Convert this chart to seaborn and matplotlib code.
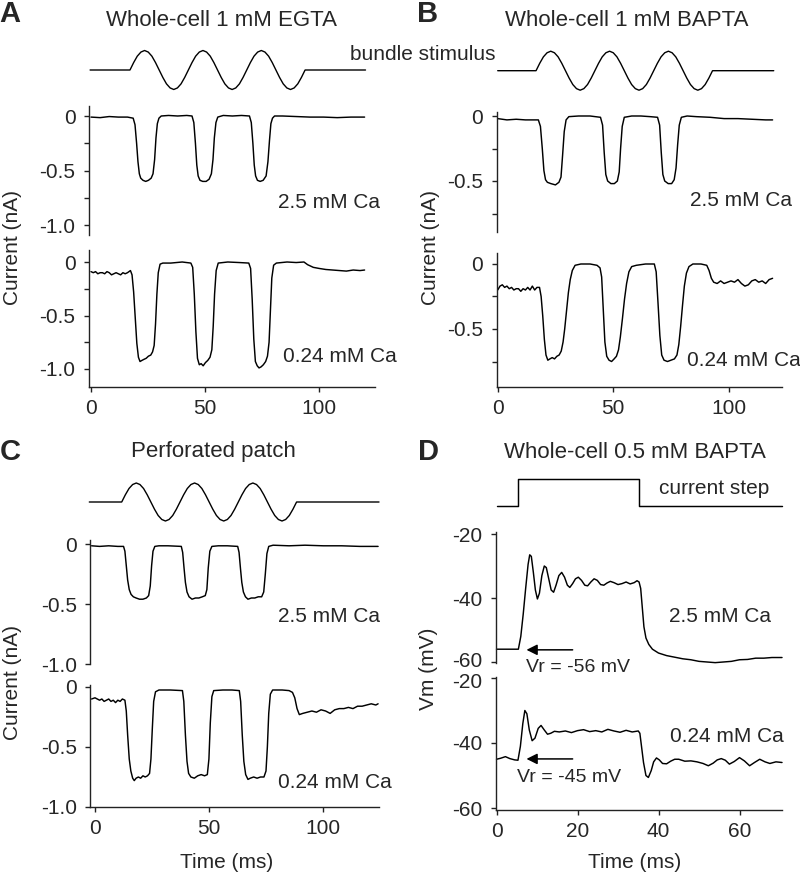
import numpy as np
import matplotlib
matplotlib.use('Agg')
import matplotlib.pyplot as plt
import matplotlib.transforms as mtransforms
import seaborn as sns

sns.set_theme(style='ticks')
plt.rcParams['font.family'] = ['Liberation Sans', 'DejaVu Sans']
plt.rcParams['axes.unicode_minus'] = False

W, H = 800, 877

# ---- data ----
# bundle stimulus, one value every 1/16 cycle, three cycles (normalised)
stim_shape = [0, 0.38, 0.71, 0.92, 1, 0.92, 0.71, 0.38, 0, -0.38, -0.71, -0.92, -1, -0.92, -0.71, -0.38,
              0, 0.38, 0.71, 0.92, 1, 0.92, 0.71, 0.38, 0, -0.38, -0.71, -0.92, -1, -0.92, -0.71, -0.38,
              0, 0.38, 0.71, 0.92, 1, 0.92, 0.71, 0.38, 0, -0.38, -0.71, -0.92, -1, -0.92, -0.71, -0.38, 0]
# (trace start, stimulus on, stimulus off, trace end) in ms
stim_A = (-0.4, 17.1, 93.9, 120.4)
stim_B = (0.0, 16.6, 93.0, 119.5)
stim_C = (-2.5, 11.7, 88.3, 124.4)

# current step of panel D (ms, relative amplitude)
step_D = [(0, 0), (5.4, 0), (5.4, 1), (35.3, 1), (35.3, 0), (70.6, 0)]

# currents (ms, nA)
A_25 = [(0, -0.01), (4, -0.015), (8, -0.005), (12, -0.01), (16, -0.01), (18.5, -0.02), (19.3, -0.08),
        (20, -0.25), (20.6, -0.42), (21.2, -0.53), (21.8, -0.57), (22.8, -0.59), (24, -0.6), (25.2, -0.59),
        (26.4, -0.57), (27.2, -0.53), (27.9, -0.4), (28.5, -0.2), (29.1, -0.07), (29.8, -0.02), (30.8, 0.0),
        (34, 0.005), (38, 0.0), (42, 0.005), (44.3, 0.0), (45.1, -0.06), (45.8, -0.25), (46.4, -0.45),
        (47, -0.55), (47.8, -0.59), (49, -0.6), (50.5, -0.6), (51.8, -0.58), (52.8, -0.53), (53.5, -0.4),
        (54.1, -0.2), (54.8, -0.06), (55.6, -0.01), (58, 0.005), (62, 0.0), (66, 0.005), (69.5, 0.0),
        (70.3, -0.06), (71, -0.25), (71.6, -0.45), (72.2, -0.55), (73, -0.59), (74.2, -0.6), (75.5, -0.59),
        (76.8, -0.55), (77.6, -0.42), (78.3, -0.22), (78.9, -0.07), (79.6, -0.02), (80.5, 0.0), (84, 0.0),
        (90, -0.005), (96, -0.01), (102, -0.01), (108, -0.015), (114, -0.01), (120, -0.01)]
A_024 = [(0, -0.09), (1, -0.1), (2, -0.09), (3, -0.11), (4, -0.1), (5, -0.1), (6, -0.11), (7, -0.09),
         (8, -0.1), (9, -0.12), (10, -0.11), (11, -0.1), (12, -0.11), (13, -0.12), (14, -0.1), (15, -0.11),
         (16, -0.1), (17.3, -0.08), (18, -0.12), (18.7, -0.28), (19.4, -0.52), (20.1, -0.76), (20.8, -0.89),
         (21.5, -0.93), (22.3, -0.92), (23.2, -0.91), (24.2, -0.9), (25.2, -0.88), (26.2, -0.87), (27, -0.84),
         (27.7, -0.78), (28.3, -0.58), (28.9, -0.3), (29.5, -0.1), (30.3, -0.02), (31.5, -0.01), (35, -0.01),
         (40, 0.0), (43.8, -0.01), (44.6, -0.05), (45.3, -0.3), (46, -0.65), (46.7, -0.9), (47.5, -0.96),
         (48.3, -0.95), (49.2, -0.97), (50.2, -0.94), (51.2, -0.92), (52.2, -0.89), (53, -0.82), (53.6, -0.6),
         (54.2, -0.3), (54.9, -0.08), (55.8, -0.01), (60, 0.0), (65, -0.005), (69.2, -0.01), (70, -0.06),
         (70.7, -0.35), (71.4, -0.72), (72.1, -0.93), (72.9, -0.97), (73.7, -0.99), (74.6, -0.98),
         (75.6, -0.96), (76.6, -0.93), (77.4, -0.88), (78.1, -0.75), (78.7, -0.45), (79.3, -0.15),
         (80.1, -0.03), (81.3, -0.01), (86, 0.0), (90, -0.005), (93.4, 0.0), (95, -0.025), (97.5, -0.05),
         (100, -0.06), (103, -0.07), (106, -0.075), (109, -0.08), (112, -0.085), (115, -0.075),
         (118, -0.08), (120, -0.075)]
B_25 = [(0, -0.02), (4, -0.03), (8, -0.025), (12, -0.03), (16, -0.03), (17.6, -0.03), (18.5, -0.08),
        (19.3, -0.25), (20, -0.42), (20.7, -0.49), (21.5, -0.51), (23, -0.52), (25, -0.53), (26.5, -0.51),
        (27.4, -0.47), (28.1, -0.3), (28.8, -0.12), (29.6, -0.03), (30.8, -0.005), (35, 0.0), (40, 0.0),
        (44.5, -0.01), (45.4, -0.07), (46.1, -0.28), (46.8, -0.45), (47.6, -0.5), (49, -0.52), (50.5, -0.52),
        (51.8, -0.5), (52.6, -0.43), (53.2, -0.25), (53.9, -0.08), (54.8, -0.01), (58, 0.0), (62, 0.0),
        (66, -0.005), (69.2, -0.01), (70.1, -0.07), (70.8, -0.28), (71.5, -0.45), (72.3, -0.5),
        (73.8, -0.52), (75.3, -0.52), (76.4, -0.49), (77.2, -0.4), (77.9, -0.22), (78.6, -0.07),
        (79.5, -0.01), (82, 0.0), (86, -0.005), (92, -0.01), (98, -0.02), (104, -0.02), (110, -0.025),
        (116, -0.03), (119, -0.03)]
B_024 = [(0, -0.2), (1, -0.17), (2, -0.16), (3, -0.18), (4, -0.17), (5, -0.19), (6, -0.18), (7, -0.2),
         (8, -0.19), (9, -0.19), (10, -0.21), (11, -0.19), (12, -0.2), (13, -0.18), (14, -0.2), (15, -0.17),
         (16, -0.2), (17, -0.18), (18.1, -0.18), (18.8, -0.25), (19.5, -0.4), (20.2, -0.58), (20.9, -0.7),
         (21.7, -0.74), (22.6, -0.73), (23.6, -0.72), (24.6, -0.73), (25.6, -0.71), (26.6, -0.7),
         (27.5, -0.67), (28.3, -0.6), (29, -0.5), (29.8, -0.36), (30.6, -0.22), (31.4, -0.12), (32.3, -0.05),
         (33.5, -0.01), (36, 0.0), (40, 0.0), (43, -0.01), (44.3, -0.03), (45, -0.1), (45.7, -0.35),
         (46.4, -0.6), (47.2, -0.71), (48.2, -0.74), (49.3, -0.75), (50.4, -0.73), (51.4, -0.71),
         (52.3, -0.66), (53.1, -0.56), (54, -0.42), (54.9, -0.27), (55.8, -0.15), (56.8, -0.06), (58, -0.02),
         (60, -0.01), (64, 0.0), (67.8, 0.0), (68.6, -0.06), (69.4, -0.3), (70.2, -0.55), (71, -0.7),
         (72, -0.74), (73.5, -0.75), (75, -0.74), (76.5, -0.73), (77.6, -0.7), (78.4, -0.62), (79.2, -0.48),
         (80, -0.32), (80.8, -0.17), (81.7, -0.07), (82.8, -0.02), (84.5, 0.0), (88, 0.0), (90.5, -0.01),
         (91.5, -0.05), (92.5, -0.11), (93.5, -0.14), (95, -0.15), (96.5, -0.13), (98, -0.15), (99.5, -0.14),
         (101, -0.13), (102.5, -0.14), (104, -0.12), (105.5, -0.15), (107, -0.17), (108.5, -0.16),
         (110, -0.13), (111.5, -0.12), (113, -0.14), (114.5, -0.13), (116, -0.15), (117.5, -0.12),
         (119, -0.11)]
C_25 = [(-1.5, -0.015), (2, -0.02), (6, -0.015), (10, -0.02), (12.5, -0.02), (13.1, -0.06), (13.7, -0.18),
        (14.3, -0.3), (15, -0.38), (15.8, -0.42), (16.8, -0.44), (18, -0.45), (19.5, -0.46), (21, -0.46),
        (22.5, -0.45), (23.5, -0.43), (24.2, -0.35), (24.8, -0.18), (25.4, -0.06), (26.2, -0.02),
        (28, -0.015), (32, -0.015), (37.8, -0.02), (38.4, -0.07), (39, -0.2), (39.6, -0.32), (40.3, -0.4),
        (41.2, -0.44), (42.5, -0.46), (44, -0.45), (45.5, -0.45), (47, -0.44), (48.3, -0.43), (49, -0.38),
        (49.6, -0.2), (50.3, -0.06), (51.2, -0.02), (54, -0.015), (58, -0.015), (62.5, -0.02), (63.1, -0.07),
        (63.7, -0.2), (64.3, -0.32), (65, -0.4), (65.9, -0.44), (67, -0.46), (68.5, -0.45), (70, -0.45),
        (71.5, -0.44), (73, -0.44), (73.9, -0.4), (74.6, -0.25), (75.3, -0.08), (76.1, -0.02), (78, -0.01),
        (85, -0.015), (92, -0.01), (100, -0.015), (108, -0.015), (116, -0.02), (124, -0.02)]
C_024 = [(-1.5, -0.1), (0, -0.09), (1, -0.1), (2, -0.11), (3, -0.1), (4, -0.12), (5, -0.11), (6, -0.1),
         (7, -0.12), (8, -0.11), (9, -0.13), (10, -0.11), (11, -0.12), (12, -0.1), (13.1, -0.11), (13.7, -0.2),
         (14.3, -0.4), (15, -0.6), (15.7, -0.7), (16.5, -0.76), (17.2, -0.78), (18, -0.76), (19, -0.75),
         (20, -0.76), (21, -0.74), (22, -0.75), (23, -0.74), (23.9, -0.72), (24.5, -0.6), (25.1, -0.35),
         (25.7, -0.12), (26.5, -0.04), (28, -0.025), (33, -0.025), (38.3, -0.03), (38.9, -0.12),
         (39.6, -0.4), (40.3, -0.62), (41, -0.72), (42, -0.75), (43.5, -0.76), (45, -0.74), (46.5, -0.73),
         (48, -0.74), (49.2, -0.73), (49.9, -0.6), (50.5, -0.3), (51.2, -0.08), (52, -0.03), (56, -0.025),
         (60, -0.025), (63.2, -0.03), (63.8, -0.12), (64.5, -0.4), (65.2, -0.62), (66, -0.73), (67, -0.77),
         (68, -0.76), (69.5, -0.75), (71, -0.76), (72.5, -0.75), (74, -0.75), (74.9, -0.7), (75.5, -0.5),
         (76.1, -0.22), (76.8, -0.06), (77.8, -0.025), (82, -0.025), (85, -0.03), (86.5, -0.045),
         (87.5, -0.09), (88.5, -0.18), (89.5, -0.23), (91, -0.22), (93, -0.21), (95, -0.2), (97, -0.21),
         (99, -0.19), (101, -0.2), (103, -0.22), (105, -0.19), (107, -0.18), (109, -0.18), (111, -0.17),
         (113, -0.18), (115, -0.16), (117, -0.16), (119, -0.15), (121, -0.14), (123, -0.15), (124, -0.14)]

# membrane potential (ms, mV)
D_25 = [(0, -56), (5.4, -56), (6.0, -52), (6.6, -45), (7.2, -37), (7.8, -29.5), (8.2, -26.5), (8.6, -27),
        (9.1, -32), (9.6, -37.5), (10.1, -40.3), (10.6, -38.5), (11.2, -33), (11.8, -30), (12.3, -30.5),
        (12.9, -34), (13.5, -37.5), (14.1, -38.2), (14.7, -36), (15.4, -33), (16.1, -32), (16.8, -33.5),
        (17.5, -36), (18.1, -36.7), (18.8, -35.5), (19.5, -34), (20.2, -33.5), (21, -34.5), (21.8, -36),
        (22.5, -36.2), (23.3, -35), (24.1, -34), (24.9, -34.5), (25.7, -35.8), (26.5, -36), (27.3, -35.3),
        (28.1, -34.8), (29, -35.2), (30, -35.8), (31, -35.5), (32, -35), (33, -35.6), (34, -35.2),
        (34.7, -34.6), (35.2, -35), (35.6, -37), (36.0, -43), (36.4, -49), (36.9, -52.5), (37.6, -54.5),
        (38.5, -56), (40, -57.2), (42, -58), (44, -58.5), (46, -59), (48, -59.3), (50, -59.8), (52, -60),
        (54, -60.2), (56, -60), (58, -59.8), (60, -59.3), (62, -59.2), (64, -58.8), (66, -58.8),
        (68, -58.6), (70.5, -58.6)]
D_024 = [(0, -45), (1, -44.7), (2.2, -44.2), (3.3, -44.8), (4.5, -45.2), (5.3, -45.3), (5.9, -41),
         (6.5, -34), (7.0, -30), (7.5, -31), (8.1, -36), (8.8, -39.3), (9.5, -38.5), (10.3, -35.5),
         (11.0, -34.6), (11.8, -36), (12.6, -37.3), (13.4, -37), (14.3, -36.4), (15.5, -36.6), (17, -36.3),
         (18.5, -36.8), (20, -36.2), (21.5, -35.9), (23, -36.5), (24.5, -36.2), (26, -36.6), (27.5, -35.8),
         (29, -36.3), (30.5, -36.7), (32, -36.1), (33.5, -36.6), (35, -36.3), (35.4, -37), (35.8, -41),
         (36.3, -46), (36.9, -50), (37.5, -50.6), (38.2, -48.5), (38.8, -45.8), (39.5, -44.6), (40.2, -45.2),
         (41, -46.3), (42, -46.4), (43, -45.6), (44, -45), (45, -45), (46.5, -45.6), (48, -45.5),
         (49.5, -45.8), (51, -46.3), (52.3, -47), (53.5, -46.2), (54.5, -45.2), (55.5, -44.8), (56.5, -45.3),
         (57.5, -46.5), (58.7, -45.7), (60, -44.5), (61.2, -45.5), (62.5, -47), (63.7, -46), (65, -45),
         (66.3, -45.8), (67.5, -46.3), (69, -45.8), (70.5, -46)]

fig = plt.figure(figsize=(W / 100, H / 100), dpi=100)
FS = 15
SPINE = '#222222'


def ftext(x, y, s, **kw):
    fig.text(x / W, 1 - y / H, s, fontsize=kw.pop('fontsize', FS), **kw)


def make_ax(x0, pxms, tlim, vref, yref, pxunit, top, bottom):
    # place an axes so that time / value map onto the reference pixel grid
    left, right = x0 + tlim[0] * pxms, x0 + tlim[1] * pxms
    ax = fig.add_axes([left / W, 1 - bottom / H, (right - left) / W, (bottom - top) / H])
    ax.set_xlim(tlim)
    ax.set_ylim(vref - (bottom - yref) / pxunit, vref + (yref - top) / pxunit)
    ax.patch.set_alpha(0)
    return ax


def trace(ax, pairs, lw=1.05):
    t, v = np.array(pairs, dtype=float).T
    sns.lineplot(x=t, y=v, ax=ax, color='black', linewidth=lw, estimator=None, sort=False)
    ax.lines[-1].set_clip_on(False)


def stim(ax, spec):
    start, on, off, end = spec
    t = np.linspace(on, off, len(stim_shape))
    pairs = [(start, 0)] + list(zip(t, stim_shape)) + [(end, 0)]
    trace(ax, pairs, lw=1.0)
    ax.axis('off')


def style(ax, yticks, ylabels, minor=None, xticks=None):
    ax.spines['top'].set_visible(False)
    ax.spines['right'].set_visible(False)
    for s in ['left', 'bottom']:
        ax.spines[s].set_color(SPINE)
        ax.spines[s].set_linewidth(1.0)
    ax.set_yticks(yticks)
    ax.set_yticklabels(ylabels)
    if minor:
        ax.set_yticks(minor, minor=True)
    if xticks is None:
        ax.spines['bottom'].set_visible(False)
        ax.set_xticks([])
    else:
        ax.set_xticks(xticks)
        ax.set_xticklabels([str(x) for x in xticks])
    ax.tick_params(axis='both', which='both', direction='out', length=3.8, width=1.0,
                   color=SPINE, labelsize=FS)
    ax.tick_params(axis='y', pad=6)
    ax.tick_params(axis='x', pad=5)
    ax.set_xlabel('')
    ax.set_ylabel('')


def nudge(label, dy):
    # shift a tick label up (+) or down (-) by dy pixels
    label.set_transform(label.get_transform() + mtransforms.Affine2D().translate(0, dy))


# ---- panel A ----
A = dict(x0=91, pxms=2.28, tlim=(-0.8, 124.5))
ax = make_ax(**A, vref=0, yref=70, pxunit=19.5, top=45, bottom=95)
stim(ax, stim_A)
ax = make_ax(**A, vref=0, yref=116, pxunit=109, top=106, bottom=235)
trace(ax, A_25)
style(ax, [0, -0.5, -1.0], ['0', '-0.5', '-1.0'], minor=[-0.25, -0.75])
ax = make_ax(**A, vref=0, yref=262, pxunit=107, top=250, bottom=387)
trace(ax, A_024)
style(ax, [0, -0.5, -1.0], ['0', '-0.5', '-1.0'], minor=[-0.25, -0.75], xticks=[0, 50, 100])

# ---- panel B ----
B = dict(x0=497.7, pxms=2.31, tlim=(-0.5, 123))
ax = make_ax(**B, vref=0, yref=70.7, pxunit=19.5, top=45, bottom=95)
stim(ax, stim_B)
ax = make_ax(**B, vref=0, yref=116, pxunit=130, top=112, bottom=232)
trace(ax, B_25)
style(ax, [0, -0.5], ['0', '-0.5'], minor=[-0.25, -0.75])
ax = make_ax(**B, vref=0, yref=264, pxunit=130, top=253, bottom=387)
trace(ax, B_024)
style(ax, [0, -0.5], ['0', '-0.5'], minor=[-0.25, -0.75], xticks=[0, 50, 100])

# ---- panel C ----
C = dict(x0=95, pxms=2.283, tlim=(-2.0, 124.5))
ax = make_ax(**C, vref=0, yref=502, pxunit=19, top=475, bottom=528)
stim(ax, stim_C)
ax = make_ax(**C, vref=0, yref=544, pxunit=120, top=540, bottom=664)
trace(ax, C_25)
style(ax, [0, -0.5, -1.0], ['0', '-0.5', '-1.0'])
ax = make_ax(**C, vref=0, yref=687, pxunit=120, top=685, bottom=807)
trace(ax, C_024)
style(ax, [0, -0.5, -1.0], ['0', '-0.5', '-1.0'], xticks=[0, 50, 100])

# ---- panel D ----
D = dict(x0=496.5, pxms=4.05, tlim=(-0.2, 70.5))
ax = make_ax(**D, vref=0, yref=506, pxunit=27, top=475, bottom=510)
trace(ax, step_D)
ax.axis('off')
axu = make_ax(**D, vref=-20, yref=534, pxunit=3.2, top=532, bottom=663)
trace(axu, D_25)
style(axu, [-20, -40, -60], ['-20', '-40', '-60'])
axl = make_ax(**D, vref=-20, yref=678, pxunit=3.25, top=677, bottom=810)
trace(axl, D_024)
style(axl, [-20, -40, -60], ['-20', '-40', '-60'], xticks=[0, 20, 40, 60])
# the touching -60 / -20 labels sit a little apart in the reference
nudge(axu.get_yticklabels()[-1], 2.5)
nudge(axl.get_yticklabels()[0], -2.5)
arrow = dict(arrowstyle='-|>', color='black', lw=1.1, mutation_scale=16, shrinkA=0, shrinkB=0)
axu.annotate('', xy=(7.4, -56.2), xytext=(18.8, -56.2), arrowprops=arrow, annotation_clip=False)
axl.annotate('', xy=(7.4, -44.9), xytext=(18.8, -44.9), arrowprops=arrow, annotation_clip=False)

# ---- text ----
for x, y, s in [(10, 14, 'A'), (428, 14, 'B'), (10, 452, 'C'), (428, 452, 'D')]:
    ftext(x, y, s, fontsize=21, fontweight='bold', ha='center', va='center')
ftext(221, 21, 'Whole-cell 1 mM EGTA', fontsize=16, ha='center', va='center')
ftext(627, 21, 'Whole-cell 1 mM BAPTA', fontsize=16, ha='center', va='center')
ftext(213, 452, 'Perforated patch', fontsize=16, ha='center', va='center')
ftext(635, 453, 'Whole-cell 0.5 mM BAPTA', fontsize=16, ha='center', va='center')
ftext(423, 55, 'bundle stimulus', ha='center', va='center')
ftext(714, 489, 'current step', ha='center', va='center')
ftext(329, 203, '2.5 mM Ca', ha='center', va='center')
ftext(340, 357, '0.24 mM Ca', ha='center', va='center')
ftext(741, 200, '2.5 mM Ca', ha='center', va='center')
ftext(687, 360, '0.24 mM Ca', ha='left', va='center')
ftext(329, 617, '2.5 mM Ca', ha='center', va='center')
ftext(335, 783, '0.24 mM Ca', ha='center', va='center')
ftext(720, 617, '2.5 mM Ca', ha='center', va='center')
ftext(727, 737, '0.24 mM Ca', ha='center', va='center')
ftext(578, 667, 'Vr = -56 mV', fontsize=14, ha='center', va='center')
ftext(569, 778, 'Vr = -45 mV', fontsize=14, ha='center', va='center')
for x, y, s in [(13, 248, 'Current (nA)'), (430, 248, 'Current (nA)'),
                (13, 682, 'Current (nA)'), (428, 669, 'Vm (mV)')]:
    ftext(x, y, s, rotation=90, ha='center', va='center')
ftext(227, 862, 'Time (ms)', ha='center', va='center')
ftext(635, 863, 'Time (ms)', ha='center', va='center')

fig.savefig('out.png', dpi=100)
